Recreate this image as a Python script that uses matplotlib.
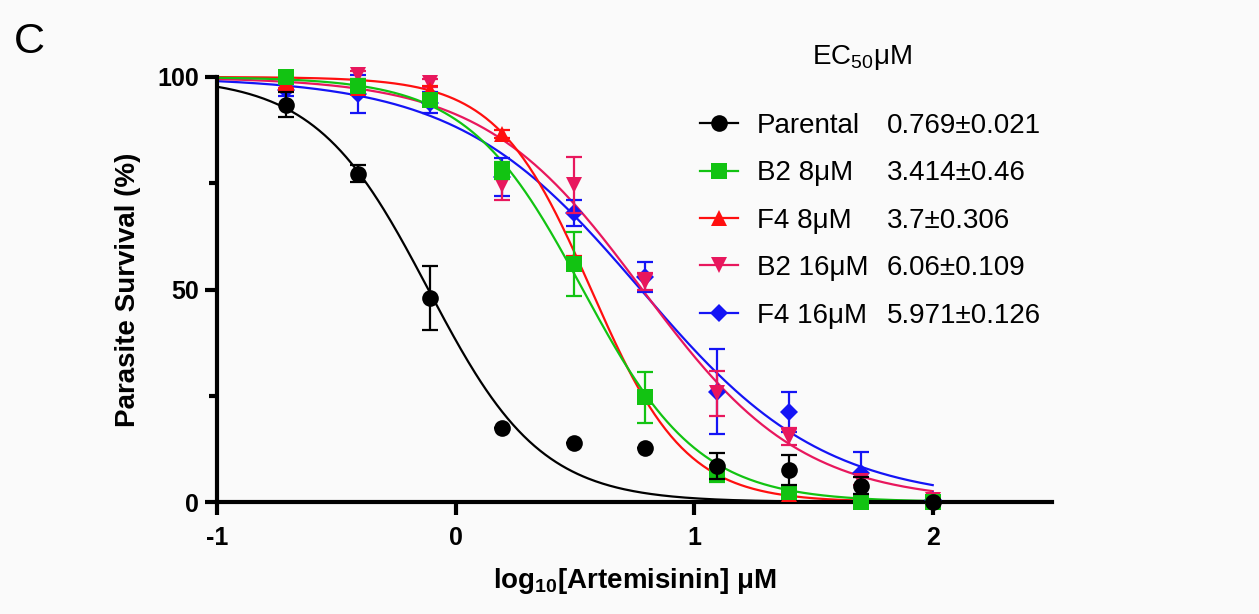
import numpy as np
import matplotlib
matplotlib.use("Agg")
import matplotlib.pyplot as plt
from matplotlib.lines import Line2D

plt.rcParams['font.family'] = ['Liberation Sans', 'DejaVu Sans']
plt.rcParams['mathtext.fontset'] = 'custom'
plt.rcParams['mathtext.rm'] = 'Liberation Sans'
plt.rcParams['mathtext.bf'] = 'Liberation Sans:bold'

# ---- data ----
conc = [100/512, 100/256, 100/128, 100/64, 100/32, 100/16, 100/8, 100/4, 100/2, 100]
names = ["Parental", "B2 8μM", "F4 8μM", "B2 16μM", "F4 16μM"]
ec50_text = ["0.769±0.021", "3.414±0.46", "3.7±0.306", "6.06±0.109", "5.971±0.126"]
ec50 = [0.769, 3.414, 3.7, 6.06, 5.971]
hill = [1.84, 1.79, 2.2, 1.3, 1.13]

parental = [93.5, 77.2, 48.0, 17.4, 13.9, 12.7, 8.5, 7.5, 3.8, 0.0]
parental_err = [3.0, 2.0, 7.5, 0.0, 0.0, 0.0, 3.0, 3.5, 2.0, 0.0]
b2_8 = [100.0, 98.0, 94.6, 78.0, 56.0, 24.7, 6.8, 2.4, 0.0, 0.0]
b2_8_err = [1.0, 1.5, 1.5, 2.0, 7.5, 6.0, 2.0, 1.0, 0.0, 0.0]
f4_8 = [99.0, 97.5, 97.0, 86.6, 57.0, 25.0, 7.0, 2.0, 0.0, 0.0]
f4_8_err = [2.0, 1.0, 1.0, 1.0, 1.0, 1.0, 1.0, 0.5, 0.0, 0.0]
b2_16 = [98.5, 100.5, 98.6, 74.6, 74.6, 51.8, 25.6, 15.3, 5.0, 0.5]
b2_16_err = [1.0, 1.0, 1.0, 3.5, 6.5, 2.0, 5.3, 2.0, 1.0, 0.0]
f4_16 = [97.0, 96.0, 94.0, 76.5, 68.0, 53.0, 26.0, 21.2, 6.8, 0.5]
f4_16_err = [1.5, 4.5, 2.5, 4.5, 3.0, 3.5, 10.0, 4.7, 5.0, 0.0]

series = [parental, b2_8, f4_8, b2_16, f4_16]
errors = [parental_err, b2_8_err, f4_8_err, b2_16_err, f4_16_err]
colors = ["#000000", "#12C312", "#FF0F0F", "#E8175D", "#1414F5"]
markers = ["o", "s", "^", "v", "D"]
msizes = [12, 12, 12, 12, 9.5]

W, H = 1259, 614
fig = plt.figure(figsize=(W/100, H/100), dpi=100, facecolor="#fafafa")
ax = fig.add_axes([217/W, (H-502)/H, (1052-217)/W, (502-77)/H])
ax.set_facecolor("#fafafa")

x = np.log10(conc)
xf = np.linspace(-1, 2, 400)
order = [4, 3, 2, 1, 0]
for k, i in enumerate(order):
    y = series[i]
    e = errors[i]
    c = colors[i]
    fit = 100.0 / (1 + 10 ** ((xf - np.log10(ec50[i])) * hill[i]))
    ax.plot(xf, fit, color=c, lw=1.6, zorder=2 + 0.01*k, clip_on=False)
    ax.errorbar(x, y, yerr=e, fmt='none', ecolor=c, elinewidth=1.6,
                capsize=6, capthick=1.6, zorder=3 + 0.1*k, clip_on=False)
    ax.plot(x, y, linestyle='none', marker=markers[i], ms=msizes[i],
            color=c, markeredgewidth=0, zorder=3.05 + 0.1*k, clip_on=False)

ax.set_xlim(-1, 2.5)
ax.set_ylim(0, 100)
for s in ["top", "right"]:
    ax.spines[s].set_visible(False)
ax.spines["left"].set_linewidth(3)
ax.spines["bottom"].set_linewidth(3)
ax.spines["left"].set_bounds(0, 100)
ax.set_xticks([-1, 0, 1, 2])
ax.set_xticklabels(["-1", "0", "1", "2"])
ax.set_yticks([0, 50, 100])
ax.set_yticks([25, 75], minor=True)
ax.tick_params(axis='x', which='major', length=9, width=3, pad=8)
ax.tick_params(axis='y', which='major', length=9, width=3, pad=4)
ax.tick_params(axis='y', which='minor', length=6, width=3)
for lab in ax.get_xticklabels() + ax.get_yticklabels():
    lab.set_fontweight('bold'); lab.set_fontsize(18)

ax.set_xlabel(r"log$_{\mathbf{10}}$[Artemisinin] μM", fontsize=20, fontweight='bold',
              labelpad=12)
ax.set_ylabel("Parasite Survival (%)", fontsize=20, fontweight='bold', labelpad=12)

fig.text(14/W, 1 - 42/H, "C", fontsize=31, va='center', ha='left')

# legend
handles = [Line2D([0], [0], color=colors[i], marker=markers[i], ms=msizes[i],
                  markeredgewidth=0, lw=1.6) for i in range(5)]
leg = ax.legend(handles, names, loc='upper left', bbox_to_anchor=(700/W, 1 - 113/H),
                bbox_transform=fig.transFigure, frameon=False, fontsize=20,
                handlelength=1.37, handletextpad=0.68, labelspacing=0.77,
                borderaxespad=0, borderpad=0)
fig.canvas.draw()
for t, val in zip(leg.get_texts(), ec50_text):
    bb = t.get_window_extent()
    yc = (bb.y0 + bb.y1) / 2
    fig.text(887/W, yc/H, val, fontsize=20, va='center', ha='left')
fig.text(862/W, 1 - 58/H, r"EC$_{50}$μM", fontsize=20, va='center', ha='center')

fig.savefig("out.png", dpi=100, facecolor=fig.get_facecolor())
